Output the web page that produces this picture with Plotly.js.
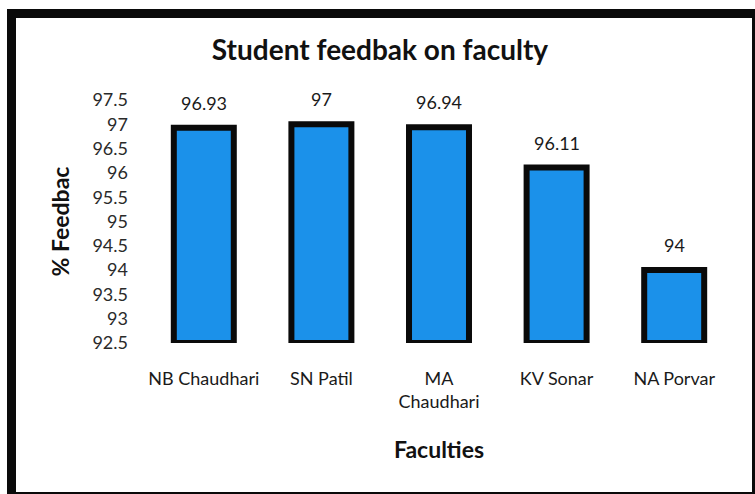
<!DOCTYPE html>
<html>
<head>
<meta charset="utf-8">
<script src="https://cdn.plot.ly/plotly-3.0.1.min.js"></script>
<style>
html,body{margin:0;padding:0;background:#fff;}
#chart{width:755px;height:494px;}
</style>
</head>
<body>
<div id="chart"></div>
<script>
const faculties = ["NB Chaudhari", "SN Patil", "MA<br>Chaudhari", "KV Sonar", "NA Porvar"];
const feedback = [96.93, 97, 96.94, 96.11, 94];
const valueLabels = ["96.93", "97", "96.94", "96.11", "94"];
const yTickVals = [92.5, 93, 93.5, 94, 94.5, 95, 95.5, 96, 96.5, 97, 97.5];
const yTickText = ["92.5", "93", "93.5", "94", "94.5", "95", "95.5", "96", "96.5", "97", "97.5"];
const axisMin = 92.5;

const FONT = "Lato, 'Open Sans', sans-serif";

const trace = {
  type: "bar",
  x: faculties,
  y: feedback.map(v => v - axisMin),
  base: axisMin,
  cliponaxis: false,
  marker: {color: "#1b91ea", line: {color: "#0a0a0a", width: 6}},
  hoverinfo: "skip"
};

const labelAnnotations = faculties.map((f, i) => ({
  x: f, y: feedback[i], xref: "x", yref: "y",
  text: valueLabels[i], showarrow: false,
  yanchor: "bottom", yshift: 12,
  font: {family: FONT, size: 18, color: "#1a1a1a"}
}));

const W = 755, H = 494;
const m = {l: 145, r: 22, t: 100, b: 151};
const pw = W - m.l - m.r, ph = H - m.t - m.b;
const px = x => (x - m.l) / pw;
const py = y => (H - m.b - y) / ph;

const layout = {
  width: W, height: H,
  margin: m,
  paper_bgcolor: "#fff",
  plot_bgcolor: "#fff",
  showlegend: false,
  bargap: 0.49,
  font: {family: FONT, color: "#111"},
  title: {
    text: "<b>Student feedbak on faculty</b>",
    font: {family: FONT, size: 28, color: "#111"},
    x: 380 / W, xref: "container", xanchor: "center",
    y: 1 - 50 / H, yref: "container", yanchor: "middle"
  },
  xaxis: {
    showline: false, showgrid: false, zeroline: false, ticks: "",
    tickfont: {family: FONT, size: 18, color: "#1a1a1a"},
    ticklabelstandoff: 23,
    title: {text: "<b>Faculties</b>", font: {family: FONT, size: 23, color: "#111"}, standoff: 30}
  },
  yaxis: {
    range: [92.5, 97.5],
    tickvals: yTickVals, ticktext: yTickText,
    showline: false, showgrid: false, zeroline: false, ticks: "",
    tickfont: {family: FONT, size: 18, color: "#2a2a2a"},
    ticklabelstandoff: 16,
    title: {text: "<b>% Feedbac</b>", font: {family: FONT, size: 23, color: "#111"}, standoff: 16}
  },
  annotations: labelAnnotations,
  shapes: [{
    type: "rect", xref: "paper", yref: "paper",
    x0: px(11.5), x1: px(756.5), y0: py(13.5), y1: py(496.5),
    line: {color: "#0a0a0a", width: 9}, fillcolor: "rgba(0,0,0,0)", layer: "above"
  }]
};

Plotly.newPlot("chart", [trace], layout, {displayModeBar: false, staticPlot: true});
</script>
</body>
</html>
